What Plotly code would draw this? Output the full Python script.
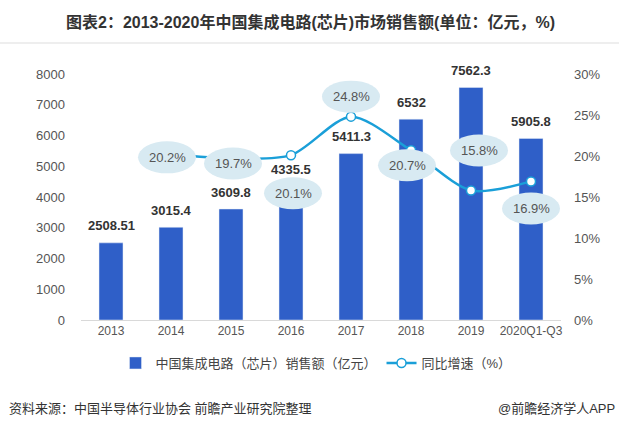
import plotly.graph_objects as go

years = ["2013", "2014", "2015", "2016", "2017", "2018", "2019", "2020Q1-Q3"]
sales = [2508.51, 3015.4, 3609.8, 4335.5, 5411.3, 6532, 7562.3, 5905.8]
sales_text = ["2508.51", "3015.4", "3609.8", "4335.5", "5411.3", "6532", "7562.3", "5905.8"]
growth_years = years[1:]
growth = [20.2, 19.7, 20.1, 24.8, 20.7, 15.8, 16.9]

# where each growth bubble sits relative to its point (px, screen down positive)
bubble_dx = [-4, 2, 2, 0, -4, 8, 0]
bubble_dy = [3, 5, 38, -20, 15, -40, 27]

BAR = "#2f5fc8"
LINE = "#1a9fd8"
BUBBLE = "#d8eaf2"
FONT = "Liberation Sans, Noto Sans CJK SC, sans-serif"

W, H = 619, 429
L, R, T, B = 81, 58, 74, 109
pw, ph = W - L - R, H - T - B


def px_x(x):
    return (x - L) / pw


def px_y(y):
    return (H - B - y) / ph


fig = go.Figure()

fig.add_trace(go.Bar(
    x=years, y=sales,
    name="中国集成电路（芯片）销售额（亿元）",
    marker=dict(color=BAR),
))

fig.add_trace(go.Scatter(
    x=growth_years, y=growth,
    yaxis="y2",
    mode="lines+markers",
    name="同比增速（%）",
    line=dict(color=LINE, width=2.5, shape="spline", smoothing=0.8),
    marker=dict(size=9, color="white", line=dict(color=LINE, width=1.5)),
))

# bar value labels (category index, since "2013" etc. read as numbers)
for i, (v, t) in enumerate(zip(sales, sales_text)):
    fig.add_annotation(x=i, y=v, text="<b>%s</b>" % t, showarrow=False,
                       yshift=17, font=dict(size=13, color="#333333", family=FONT))

# growth bubbles
shapes = []
for i, (v, dx, dy) in enumerate(zip(growth, bubble_dx, bubble_dy)):
    idx = years.index(growth_years[i])
    shapes.append(dict(
        type="circle", xref="x", yref="y2",
        xsizemode="pixel", ysizemode="pixel",
        xanchor=idx, yanchor=v,
        x0=dx - 29, x1=dx + 29, y0=-dy - 16, y1=-dy + 16,
        fillcolor=BUBBLE, line=dict(width=0), layer="above",
    ))
    fig.add_annotation(x=idx, y=v, yref="y2", text="%.1f%%" % v,
                       showarrow=False, xshift=dx, yshift=-dy,
                       font=dict(size=13, color="#555555", family=FONT))

# separator under title
shapes.append(dict(type="line", xref="paper", yref="paper",
                   x0=px_x(0), x1=px_x(W), y0=px_y(43), y1=px_y(43),
                   line=dict(color="#eeeeee", width=2)))

fig.add_annotation(xref="paper", yref="paper", x=px_x(7), y=px_y(408),
                   xanchor="left", yanchor="middle", showarrow=False,
                   text="资料来源：中国半导体行业协会 前瞻产业研究院整理",
                   font=dict(size=13, color="#333333", family=FONT))
fig.add_annotation(xref="paper", yref="paper", x=px_x(617), y=px_y(408),
                   xanchor="right", yanchor="middle", showarrow=False,
                   text="@前瞻经济学人APP",
                   font=dict(size=13, color="#333333", family=FONT))

# title as a paper annotation so its centre can be placed freely
fig.add_annotation(xref="paper", yref="paper", x=px_x(310), y=px_y(22),
                   xanchor="center", yanchor="middle", showarrow=False,
                   text="<b>图表2：2013-2020年中国集成电路(芯片)市场销售额(单位：亿元，%)</b>",
                   font=dict(size=16, color="#333333", family=FONT))

fig.update_layout(
    width=W, height=H,
    margin=dict(l=L, r=R, t=T, b=B),
    paper_bgcolor="white", plot_bgcolor="white",
    font=dict(family=FONT, size=12, color="#555555"),
    bargap=0.6,
    showlegend=True,
    legend=dict(orientation="h", xref="paper", yref="paper",
                x=px_x(316), y=px_y(363), xanchor="center", yanchor="middle",
                font=dict(size=13, color="#444444", family=FONT),
                bgcolor="rgba(0,0,0,0)", itemwidth=30),
    xaxis=dict(type="category", categoryorder="array", categoryarray=years,
               range=[-0.5, len(years) - 0.5], showgrid=False, showline=True,
               linecolor="#d9d9d9", linewidth=1, ticks="",
               tickfont=dict(size=12, color="#555555")),
    yaxis=dict(range=[0, 8000], dtick=1000, showgrid=False, zeroline=False,
               ticks="", ticklabelstandoff=15, tickfont=dict(size=13, color="#555555")),
    yaxis2=dict(range=[0, 30], dtick=5, ticksuffix="%", overlaying="y", side="right",
                showgrid=False, zeroline=False, ticks="", ticklabelstandoff=12,
                tickfont=dict(size=13, color="#555555")),
    shapes=shapes,
)

fig.write_html("out.html", config={"displayModeBar": False},
               post_script="document.body.style.margin='0';")
